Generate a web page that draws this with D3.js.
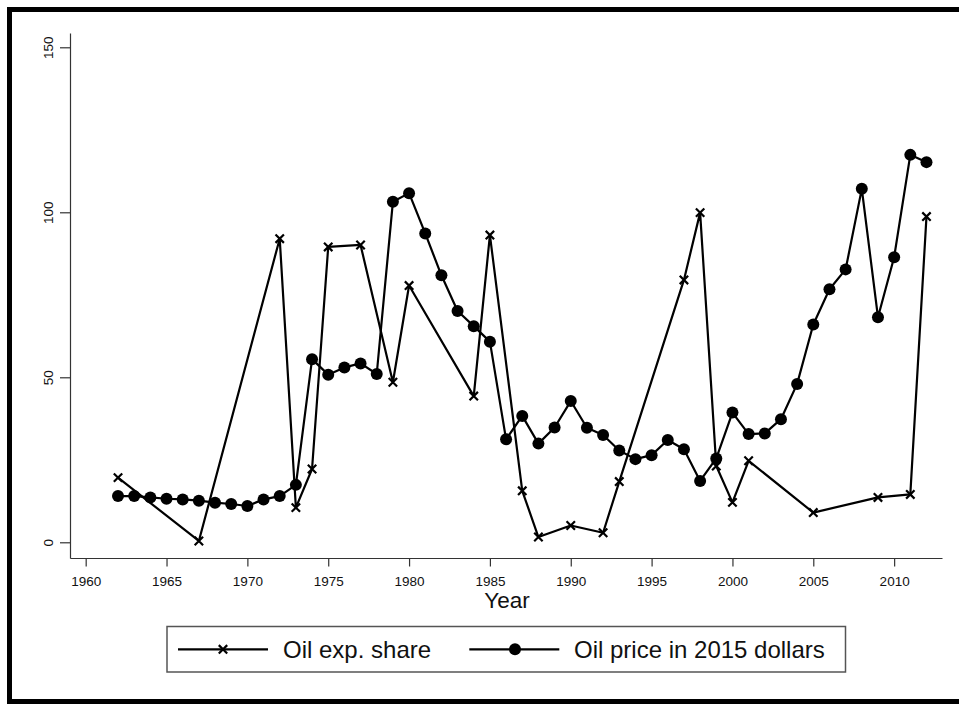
<!DOCTYPE html>
<html>
<head>
<meta charset="utf-8">
<script src="https://cdn.jsdelivr.net/npm/d3@7"></script>
<style>
  html, body { margin: 0; padding: 0; background: #fff; }
  svg { display: block; font-family: "Liberation Sans", Arial, Helvetica, sans-serif; }
</style>
</head>
<body>
<svg id="chart" width="959" height="704"></svg>
<script>
// ---- data ----
const priceYears = [1962,1963,1964,1965,1966,1967,1968,1969,1970,1971,1972,1973,1974,1975,1976,1977,1978,1979,1980,1981,1982,1983,1984,1985,1986,1987,1988,1989,1990,1991,1992,1993,1994,1995,1996,1997,1998,1999,2000,2001,2002,2003,2004,2005,2006,2007,2008,2009,2010,2011,2012];
const priceValues = [14.0,14.0,13.6,13.2,13.0,12.6,12.0,11.6,11.0,13.0,14.0,17.4,55.5,50.8,53.0,54.2,51.0,103.2,105.8,93.6,80.9,70.1,65.5,60.8,31.2,38.3,29.9,34.8,42.8,34.7,32.5,27.8,25.2,26.4,31.0,28.2,18.6,25.4,39.3,32.8,33.0,37.3,48.0,66.0,76.7,82.7,107.1,68.2,86.4,117.4,115.2];
const shareYears = [1962,1967,1972,1973,1974,1975,1977,1979,1980,1984,1985,1987,1988,1990,1992,1993,1997,1998,1999,2000,2001,2005,2009,2011,2012];
const shareValues = [19.6,0.4,92.0,10.5,22.2,89.5,90.1,48.5,77.8,44.3,93.1,15.6,1.6,5.1,2.9,18.4,79.5,99.9,23.1,12.1,24.7,9.0,13.6,14.5,98.7];
const xTicks = [1960,1965,1970,1975,1980,1985,1990,1995,2000,2005,2010];
const yTicks = [0,50,100,150];
const seriesNames = ["Oil exp. share", "Oil price in 2015 dollars"];
const xTitle = "Year";

// ---- layout ----
const svg = d3.select("#chart");
const x = d3.scaleLinear().domain([1959.03, 2012.96]).range([70, 942]);
const y = d3.scaleLinear().domain([-4.76, 154.33]).range([558, 33]);
const axisColor = "#333";

// outer frame (right edge cropped)
svg.append("path")
  .attr("d", "M 980 9.5 L 9.5 9.5 L 9.5 701.5 L 980 701.5")
  .attr("fill", "none").attr("stroke", "#000").attr("stroke-width", 5);

// y axis
const gy = svg.append("g").attr("transform", "translate(70,0)")
  .call(d3.axisLeft(y).tickValues(yTicks).tickSize(10).tickSizeOuter(0).tickFormat(d3.format("d")));
gy.select(".domain").attr("stroke", axisColor).attr("stroke-width", 1.2);
gy.selectAll(".tick line").attr("stroke", axisColor).attr("stroke-width", 1.2);
gy.selectAll(".tick text")
  .attr("x", 0).attr("dy", 0)
  .attr("transform", "translate(-17.5,0) rotate(-90)")
  .attr("text-anchor", "middle")
  .attr("font-size", 13.5).attr("fill", "#111")
  .attr("font-family", "'Liberation Sans', Arial, sans-serif");

// x axis
const gx = svg.append("g").attr("transform", "translate(0,558)")
  .call(d3.axisBottom(x).tickValues(xTicks).tickSize(8.5).tickSizeOuter(0).tickFormat(d3.format("d")));
gx.select(".domain").attr("stroke", axisColor).attr("stroke-width", 1.2);
gx.selectAll(".tick line").attr("stroke", axisColor).attr("stroke-width", 1.2);
gx.selectAll(".tick text")
  .attr("y", 27.7).attr("dy", 0)
  .attr("font-size", 13.5).attr("fill", "#111")
  .attr("font-family", "'Liberation Sans', Arial, sans-serif");

// x title
svg.append("text").attr("x", 507).attr("y", 608.3)
  .attr("text-anchor", "middle").attr("font-size", 22.5).attr("fill", "#111")
  .text(xTitle);

// series
const line = d3.line().x(d => x(d[0])).y(d => y(d[1]));
const shareData = shareYears.map((yr, i) => [yr, shareValues[i]]);
const priceData = priceYears.map((yr, i) => [yr, priceValues[i]]);

svg.append("path").datum(shareData).attr("d", line)
  .attr("fill", "none").attr("stroke", "#000").attr("stroke-width", 2.2).attr("stroke-linejoin", "round");
svg.append("path").datum(priceData).attr("d", line)
  .attr("fill", "none").attr("stroke", "#000").attr("stroke-width", 2.2).attr("stroke-linejoin", "round");

const xSize = 4.2;
function drawX(g, cx, cy, s) {
  g.append("path")
    .attr("d", `M ${cx - s} ${cy - s} L ${cx + s} ${cy + s} M ${cx - s} ${cy + s} L ${cx + s} ${cy - s}`)
    .attr("stroke", "#000").attr("stroke-width", 2.2).attr("fill", "none");
}
const gShare = svg.append("g");
shareData.forEach(d => drawX(gShare, x(d[0]), y(d[1]), xSize));

svg.append("g").selectAll("circle").data(priceData).join("circle")
  .attr("cx", d => x(d[0])).attr("cy", d => y(d[1])).attr("r", 6).attr("fill", "#000");

// legend
const lg = svg.append("g");
lg.append("rect").attr("x", 167).attr("y", 626.5).attr("width", 678.5).attr("height", 45.5)
  .attr("fill", "#fff").attr("stroke", "#555").attr("stroke-width", 1.5);
const ly = 649.3;
lg.append("line").attr("x1", 178).attr("x2", 268).attr("y1", ly).attr("y2", ly)
  .attr("stroke", "#000").attr("stroke-width", 2.2);
drawX(lg, 223, ly, 4.2);
lg.append("text").attr("x", 283).attr("y", ly + 8.5).attr("font-size", 24).attr("fill", "#111").text(seriesNames[0]);
lg.append("line").attr("x1", 469.3).attr("x2", 559.3).attr("y1", ly).attr("y2", ly)
  .attr("stroke", "#000").attr("stroke-width", 2.2);
lg.append("circle").attr("cx", 515).attr("cy", ly).attr("r", 6).attr("fill", "#000");
lg.append("text").attr("x", 574).attr("y", ly + 8.5).attr("font-size", 24).attr("fill", "#111").text(seriesNames[1]);
</script>
</body>
</html>
